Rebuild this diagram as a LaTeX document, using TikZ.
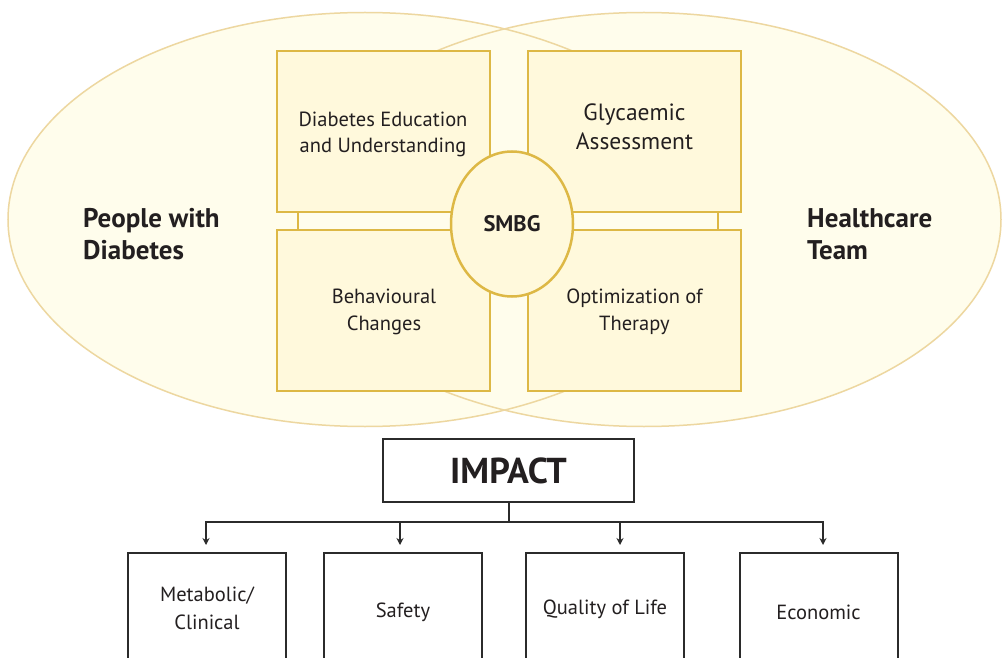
\documentclass[tikz,border=0pt]{standalone}
\usepackage{fontspec}
\setmainfont{PT Sans}
\usetikzlibrary{shapes.geometric,arrows.meta}
\definecolor{txt}{HTML}{231F20}
\definecolor{ellfill}{HTML}{FFFDEC}
\definecolor{elldraw}{HTML}{EDD7A0}
\definecolor{boxfill}{HTML}{FFF9DC}
\definecolor{boxdraw}{HTML}{DDB845}
\definecolor{blk}{HTML}{2B2B2B}
\tikzset{
  bigell/.style={ellipse, minimum width=714pt, minimum height=414pt, inner sep=0pt},
  goldbox/.style={draw=boxdraw, fill=boxfill, line width=2.5pt, minimum width=213pt, minimum height=161pt, inner sep=0pt},
  boxtext/.style={align=center, text=txt, inner sep=0pt, font=\fontsize{20.5}{26}\selectfont},
  smbg/.style={ellipse, draw=boxdraw, fill=boxfill, line width=2.5pt, minimum width=122pt, minimum height=145pt, inner sep=0pt, text=txt, font=\fontsize{22.5}{26}\selectfont\bfseries},
  actor/.style={align=left, text=txt, anchor=west, inner sep=0pt, font=\fontsize{27}{32}\selectfont\bfseries},
  impbox/.style={draw=blk, line width=2pt, minimum width=251pt, minimum height=63pt, inner sep=0pt, text=txt, font=\fontsize{36}{40}\selectfont\bfseries},
  outbox/.style={draw=blk, line width=2pt, minimum width=158pt, minimum height=160pt, inner sep=0pt},
  outtext/.style={align=center, text=txt, inner sep=0pt, font=\fontsize{20.5}{28}\selectfont},
  link/.style={draw=boxdraw, line width=2.5pt},
  bus/.style={draw=blk, line width=2pt},
  arr/.style={draw=blk, line width=2pt, -{Stealth[length=7pt,width=7pt]}}
}
\begin{document}
\begin{tikzpicture}[x=1pt,y=-1pt]
\clip (0,0) rectangle (1002,658);
\fill[white] (0,0) rectangle (1002,658);
% big ellipses
\node[bigell, fill=ellfill] (pwd) at (365,219.5) {};
\node[bigell, fill=ellfill] (hct) at (644,219.5) {};
\node[bigell, draw=elldraw, line width=1.5pt] at (pwd.center) {};
\node[bigell, draw=elldraw, line width=1.5pt] at (hct.center) {};
% gap band between box rows
\fill[ellfill] (277,212) rectangle (741,230);
% links
\draw[link] (298,212) -- (298,230);
\draw[link] (718,212) -- (718,230);
% boxes
\node[goldbox] (edu) at (383.5,131.5) {};
\node[goldbox] (gly) at (634.5,131.5) {};
\node[goldbox] (beh) at (383.5,310.5) {};
\node[goldbox] (opt) at (634.5,310.5) {};
\node[boxtext] (edut) at (383,134) {Diabetes Education\\and Understanding};
\node[boxtext, font=\fontsize{23.5}{29}\selectfont] (glyt) at (634.5,126.5) {Glycaemic\\Assessment};
\node[boxtext, font=\fontsize{20.5}{27}\selectfont] (beht) at (384,311.5) {Behavioural\\Changes};
\node[boxtext, font=\fontsize{20.5}{27}\selectfont] (optt) at (634.5,311.5) {Optimization of\\Therapy};
\node[smbg] (sm) at (512,224) {SMBG};
% actor labels
\node[actor] (pl) at (83,234) {People with\\Diabetes};
\node[actor] (hl) at (807,234) {Healthcare\\Team};
% impact
\node[impbox] (imp) at (508.5,470.5) {IMPACT};
\node[outbox] (o1) at (207,633) {};
\node[outbox] (o2) at (403,633) {};
\node[outbox] (o3) at (605,633) {};
\node[outbox] (o4) at (818.5,633) {};
\node[outtext] (o1t) at (207,608) {Metabolic/\\Clinical};
\node[outtext] (o2t) at (403,612) {Safety};
\node[outtext] (o3t) at (605,609) {Quality of Life};
\node[outtext] (o4t) at (818.5,612) {Economic};
\coordinate (b0) at (508.5,522);
\coordinate (b1) at (206,522);
\coordinate (b2) at (400,522);
\coordinate (b3) at (620,522);
\coordinate (b4) at (823,522);
\draw[bus] (imp.south) -- (b0);
\draw[bus] ([xshift=-1pt]b1) -- ([xshift=1pt]b4);
\draw[arr] (b1) -- ([yshift=7pt]b1 |- o1.north);
\draw[arr] (b2) -- ([yshift=7pt]b2 |- o2.north);
\draw[arr] (b3) -- ([yshift=7pt]b3 |- o3.north);
\draw[arr] (b4) -- ([yshift=7pt]b4 |- o4.north);
\end{tikzpicture}
\end{document}
